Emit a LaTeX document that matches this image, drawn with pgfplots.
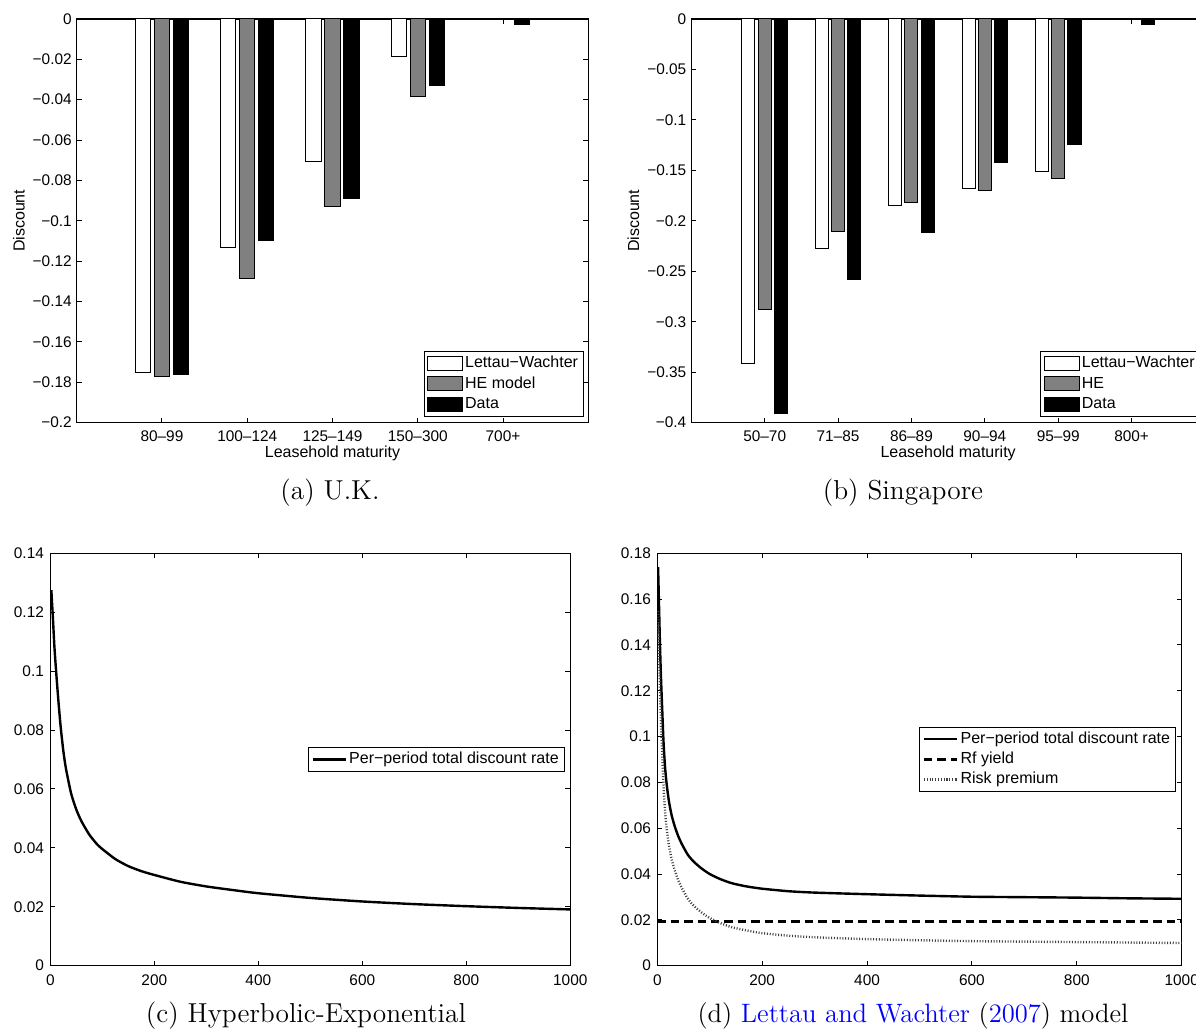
\documentclass[border=0pt]{standalone}
\usepackage{fontspec}
\usepackage{pgfplots}
\pgfplotsset{compat=1.18}
\newfontfamily\lib{Liberation Sans}
\newcommand\tfont{\lib\fontsize{7.7}{9}\selectfont}
\newcommand\lfont{\lib\fontsize{8}{9.5}\selectfont}
\definecolor{linkblue}{rgb}{0,0,1}

\pgfplotsset{
  mat/.style={
    scale only axis,
    axis line style={line width=0.75pt},
    every tick/.style={black, line width=0.5pt},
    major tick length=2.5pt,
    tick align=inside,
    tick label style={font=\tfont},
    yticklabel style={anchor=east, inner sep=0pt, xshift=-2.3pt},
    xticklabel style={anchor=base, inner sep=0pt, yshift=-9.2pt},
    legend cell align=left,
    legend style={font=\lfont, draw=black, line width=0.5pt, fill=white,
      inner xsep=1.5pt, inner ysep=1.2pt, row sep=0.5pt,
      nodes={inner ysep=1pt, inner xsep=1.2pt, text height=5.9pt, text depth=1.7pt}},
  },
  barax/.style={
    mat,
    width=255.8pt, height=201.9pt,
    every axis y label/.style={at={(axis description cs:-0.1128,0.5)}, rotate=90, anchor=center, font=\lfont},
    every axis x label/.style={at={(axis description cs:0.5,0)}, anchor=center, yshift=-15.3pt, font=\lfont},
    xlabel={Leasehold maturity}, ylabel={Discount},
    legend style={at={(1,0)}, anchor=south east, xshift=-2.2pt, yshift=3pt},
    legend image code/.code={\draw[#1,draw=black,line width=0.5pt] (0pt,-3.5pt) rectangle (17.3pt,3.5pt);},
  },
  lineax/.style={
    mat,
    width=260pt, height=206.2pt,
    xmin=0, xmax=1000,
    xtick={0,200,400,600,800,1000},
    xticklabels={0,200,400,600,800,1000},
    xticklabel style={yshift=-0.8pt},
    yticklabel style={xshift=-0.7pt},
    legend style={at={(1,0.5)}, anchor=east, xshift=-2.85pt},
    legend image code/.code={\draw[#1] plot coordinates {(0pt,0pt) (16.5pt,0pt)};},
  },
  lwbar/.style={ybar, bar width=0.178, bar shift=-0.222, fill=white, draw=black, line width=0.5pt},
  hebar/.style={ybar, bar width=0.178, bar shift=0, fill=black!50, draw=black, line width=0.5pt},
  dtbar/.style={ybar, bar width=0.178, bar shift=0.222, fill=black, draw=black, line width=0.5pt},
}

\begin{document}
\begin{tikzpicture}

% ---------------- (a) U.K.
\begin{axis}[barax,
  at={(38.35pt,304.15pt)}, anchor=south west,
  xmin=0, xmax=6, ymin=-0.2, ymax=0,
  xtick={1,2,3,4,5},
  xticklabels={80–99,100–124,125–149,150–300,700+},
  ytick={-0.2,-0.18,-0.16,-0.14,-0.12,-0.1,-0.08,-0.06,-0.04,-0.02,0},
  yticklabels={−0.2,−0.18,−0.16,−0.14,−0.12,−0.1,−0.08,−0.06,−0.04,−0.02,0},
]
\addplot[lwbar] coordinates {(1,-0.1751) (2,-0.1133) (3,-0.0705) (4,-0.0187) (5,-0.0003)};
\addlegendentry{Lettau−Wachter}
\addplot[hebar] coordinates {(1,-0.1770) (2,-0.1287) (3,-0.0930) (4,-0.0383) (5,-0.0004)};
\addlegendentry{HE model}
\addplot[dtbar] coordinates {(1,-0.1762) (2,-0.1098) (3,-0.0890) (4,-0.0330) (5,-0.0030)};
\addlegendentry{Data}
\end{axis}

% ---------------- (b) Singapore
\begin{axis}[barax,
  width=256.85pt,
  at={(345.65pt,304.15pt)}, anchor=south west,
  xmin=0, xmax=7, ymin=-0.4, ymax=0,
  xtick={1,2,3,4,5,6},
  xticklabels={50–70,71–85,86–89,90–94,95–99,800+},
  ytick={-0.4,-0.35,-0.3,-0.25,-0.2,-0.15,-0.1,-0.05,0},
  yticklabels={−0.4,−0.35,−0.3,−0.25,−0.2,−0.15,−0.1,−0.05,0},
]
\addplot[lwbar] coordinates {(1,-0.3411) (2,-0.2272) (3,-0.1846) (4,-0.1678) (5,-0.1510) (6,-0.0004)};
\addlegendentry{Lettau−Wachter}
\addplot[hebar] coordinates {(1,-0.2877) (2,-0.2107) (3,-0.1817) (4,-0.1698) (5,-0.1579) (6,-0.0006)};
\addlegendentry{HE}
\addplot[dtbar] coordinates {(1,-0.3911) (2,-0.2583) (3,-0.2121) (4,-0.1424) (5,-0.1249) (6,-0.0059)};
\addlegendentry{Data}
\end{axis}

% ---------------- (c) Hyperbolic-Exponential
\begin{axis}[lineax,
  at={(25.15pt,32.65pt)}, anchor=south west,
  ymin=0, ymax=0.14,
  ytick={0,0.02,0.04,0.06,0.08,0.1,0.12,0.14},
  yticklabels={0,0.02,0.04,0.06,0.08,0.1,0.12,0.14},
]
\addplot[black, line width=1.2pt, smooth, tension=0.4] coordinates {
(2,0.1275) (5,0.1180) (8,0.1080) (12,0.0980) (16,0.0890) (20,0.0810)
(25,0.0730) (30,0.0670) (40,0.0585) (50,0.0530) (60,0.0490) (75,0.0445)
(90,0.0412) (100,0.0396) (125,0.0362) (150,0.0338) (175,0.0321) (200,0.0308)
(250,0.0285) (300,0.0269) (350,0.0257) (400,0.0246) (500,0.0230) (600,0.0218)
(700,0.0209) (800,0.0202) (900,0.0196) (1000,0.0191)};
\addlegendentry{Per−period total discount rate}
\end{axis}

% ---------------- (d) Lettau and Wachter (2007) model
\begin{axis}[lineax,
  width=262.2pt,
  at={(328.65pt,32.65pt)}, anchor=south west,
  ymin=0, ymax=0.18,
  ytick={0,0.02,0.04,0.06,0.08,0.1,0.12,0.14,0.16,0.18},
  yticklabels={0,0.02,0.04,0.06,0.08,0.1,0.12,0.14,0.16,0.18},
]
\addplot[black, line width=1.2pt, smooth, tension=0.4] coordinates {
(1.5,0.1740) (3,0.1600) (5,0.1410) (7,0.1260) (9.5,0.1110) (12,0.0970)
(15,0.0860) (18,0.0790) (22,0.0720) (27,0.0660) (33,0.0610) (40,0.0565)
(47,0.0530) (58,0.0485) (69,0.0455) (84,0.0425) (100,0.0400) (120,0.0378)
(142,0.0360) (170,0.0346) (200,0.0336) (250,0.0325) (300,0.0319) (400,0.0312)
(500,0.0306) (600,0.0301) (700,0.0299) (800,0.0297) (900,0.0294) (1000,0.0292)};
\addlegendentry{Per−period total discount rate}
\addplot[black, line width=1.2pt, dash pattern=on 4.2pt off 2.5pt] coordinates {
(0,0.0192) (1000,0.0192)};
\addlegendentry{Rf yield}
\addplot[black!75, line width=1.2pt, dash pattern=on 0.5pt off 0.9pt, smooth, tension=0.4] coordinates {
(1.5,0.1548) (3,0.1408) (5,0.1218) (7,0.1068) (9.5,0.0918) (12,0.0778)
(15,0.0668) (18,0.0598) (22,0.0528) (27,0.0468) (33,0.0418) (40,0.0373)
(47,0.0338) (58,0.0293) (69,0.0263) (84,0.0233) (100,0.0208) (120,0.0186)
(142,0.0168) (170,0.0154) (200,0.0142) (250,0.0131) (300,0.0124) (400,0.0116)
(500,0.0111) (600,0.0107) (700,0.0105) (800,0.0103) (900,0.0101) (1000,0.0099)};
\addlegendentry{Risk premium}
\end{axis}

% ---------------- captions
\node[anchor=base, font=\fontsize{13.7}{16}\selectfont] at (165pt,265.5pt) {(a)~U.K.};
\node[anchor=base, font=\fontsize{13.7}{16}\selectfont] at (451.5pt,265.5pt) {(b)~Singapore};
\node[anchor=base, font=\fontsize{13.7}{16}\selectfont] at (153pt,4.15pt) {(c)~Hyperbolic-Exponential};
\node[anchor=base, font=\fontsize{13.3}{16}\selectfont] at (456.5pt,4.15pt) {(d)~\textcolor{linkblue}{Lettau and Wachter} (\textcolor{linkblue}{2007}) model};

\pgfresetboundingbox
\path[use as bounding box] (0,0) rectangle (598pt,515.5pt);
\end{tikzpicture}
\end{document}
